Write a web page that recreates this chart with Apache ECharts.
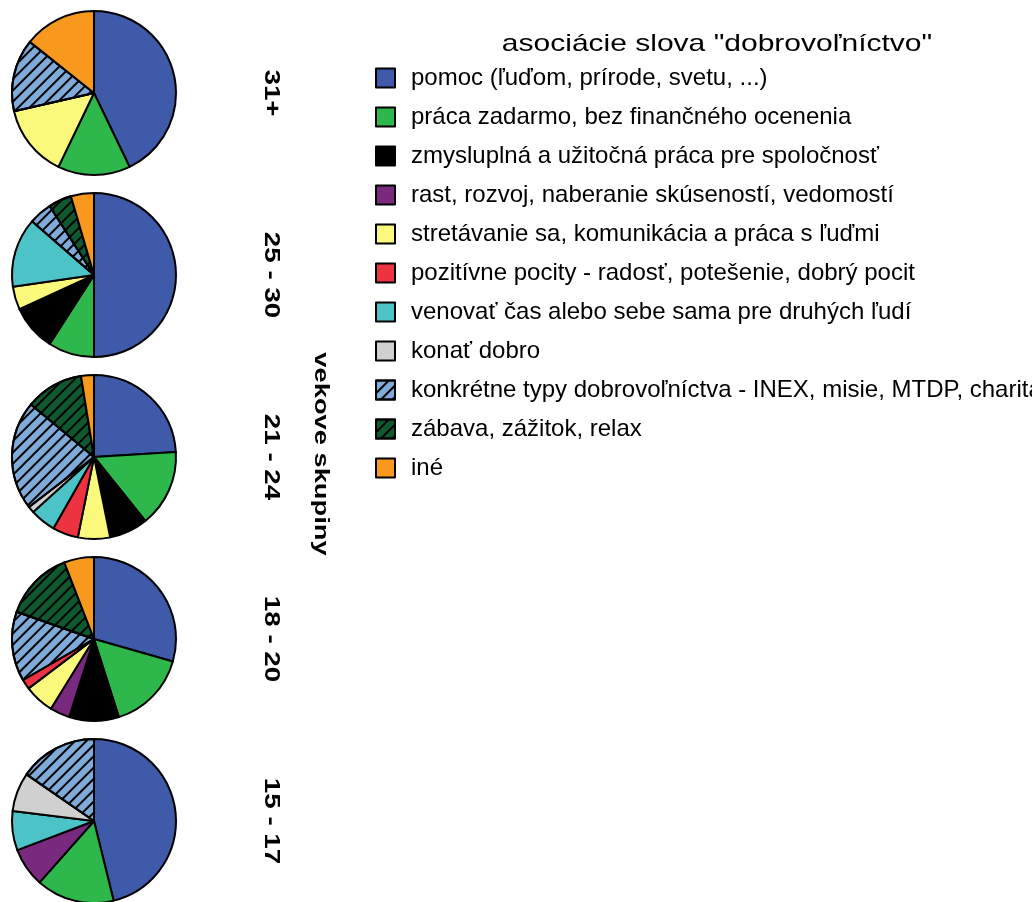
<!DOCTYPE html>
<html>
<head>
<meta charset="utf-8">
<script src="https://cdn.jsdelivr.net/npm/echarts@6/dist/echarts.min.js"></script>
<style>
  html, body { margin: 0; padding: 0; background: #fff; }
  #main { width: 1032px; height: 902px; }
</style>
</head>
<body>
<div id="main"></div>
<script>
// kategorie (poradie ako v legende)
var categories = [
    'pomoc (ľuďom, prírode, svetu, ...)',
    'práca zadarmo, bez finančného ocenenia',
    'zmysluplná a užitočná práca pre spoločnosť',
    'rast, rozvoj, naberanie skúseností, vedomostí',
    'stretávanie sa, komunikácia a práca s ľuďmi',
    'pozitívne pocity - radosť, potešenie, dobrý pocit',
    'venovať čas alebo sebe sama pre druhých ľudí',
    'konať dobro',
    'konkrétne typy dobrovoľníctva - INEX, misie, MTDP, charita',
    'zábava, zážitok, relax',
    'iné'
];
var colors = ['#3F5AA9', '#2EB84C', '#000000', '#7A2A7E', '#FBF97C', '#EE3340',
              '#4BC3C7', '#D0D0D0', '#7FABDA', '#0E5A2E', '#F8991E'];
var hatched = [8, 9];

// vekove skupiny a pocty odpovedi
var groups = ['31+', '25 - 30', '21 - 24', '18 - 20', '15 - 17'];
var counts31 = [3, 1, 0, 0, 1, 0, 0, 0, 1, 0, 1];
var counts2530 = [11, 2, 2, 0, 1, 0, 3, 0, 1, 1, 1];
var counts2124 = [19, 12, 6, 0, 5, 4, 4, 1, 17, 9, 2];
var counts1820 = [15, 8, 5, 2, 3, 1, 0, 0, 7, 7, 3];
var counts1517 = [6, 2, 0, 1, 0, 0, 1, 1, 2, 0, 0];
var allCounts = [counts31, counts2530, counts2124, counts1820, counts1517];

var FONT = '"Liberation Sans", Arial, sans-serif';
var pieX = 94, pieTop = 93, pieStep = 182, pieR = 82;

function itemStyle(i) {
    var s = { color: colors[i], borderColor: '#000', borderWidth: 2 };
    if (hatched.indexOf(i) >= 0) {
        s.decal = {
            symbol: 'rect',
            color: '#000',
            dashArrayX: [1, 0],
            dashArrayY: [2, 6],
            rotation: -Math.PI / 4
        };
    }
    return s;
}

// natiahnuty text (ako v povodnom grafe)
function label(text, x, y, font, rot, sx) {
    return {
        type: 'text',
        x: x, y: y,
        rotation: rot,
        scaleX: sx,
        style: {
            text: text, font: font, fill: '#000',
            textAlign: 'center', textVerticalAlign: 'middle'
        }
    };
}

var series = [];
var graphics = [];
groups.forEach(function(g, k) {
    var data = [];
    allCounts[k].forEach(function(v, i) {
        if (v > 0) data.push({ name: categories[i], value: v, itemStyle: itemStyle(i) });
    });
    var cy = pieTop + k * pieStep;
    series.push({
        name: g,
        type: 'pie',
        center: [pieX, cy],
        radius: pieR,
        startAngle: 90,
        clockwise: true,
        label: { show: false },
        labelLine: { show: false },
        emphasis: { disabled: true },
        data: data
    });
    graphics.push(label(g, 271, cy, 'bold 22px ' + FONT, -Math.PI / 2, 1.26));
});

graphics.push(label('vekove skupiny', 321, pieTop + 2 * pieStep - 3, 'bold 21px ' + FONT, -Math.PI / 2, 1.3));
graphics.push(label('asociácie slova "dobrovoľníctvo"', 717, 44, '24px ' + FONT, 0, 1.25));

var myChart = echarts.init(document.getElementById('main'));
var option = {
    animation: false,
    legend: {
        orient: 'vertical',
        left: 370,
        top: 61,
        itemWidth: 19,
        itemHeight: 19,
        itemGap: 15,
        icon: 'rect',
        selectedMode: false,
        data: categories,
        itemStyle: { borderColor: '#000', borderWidth: 2 },
        textStyle: { fontFamily: FONT, fontSize: 24, lineHeight: 19, color: '#000', padding: [0, 0, 0, 11] }
    },
    graphic: graphics,
    series: series
};
myChart.setOption(option);
</script>
</body>
</html>
